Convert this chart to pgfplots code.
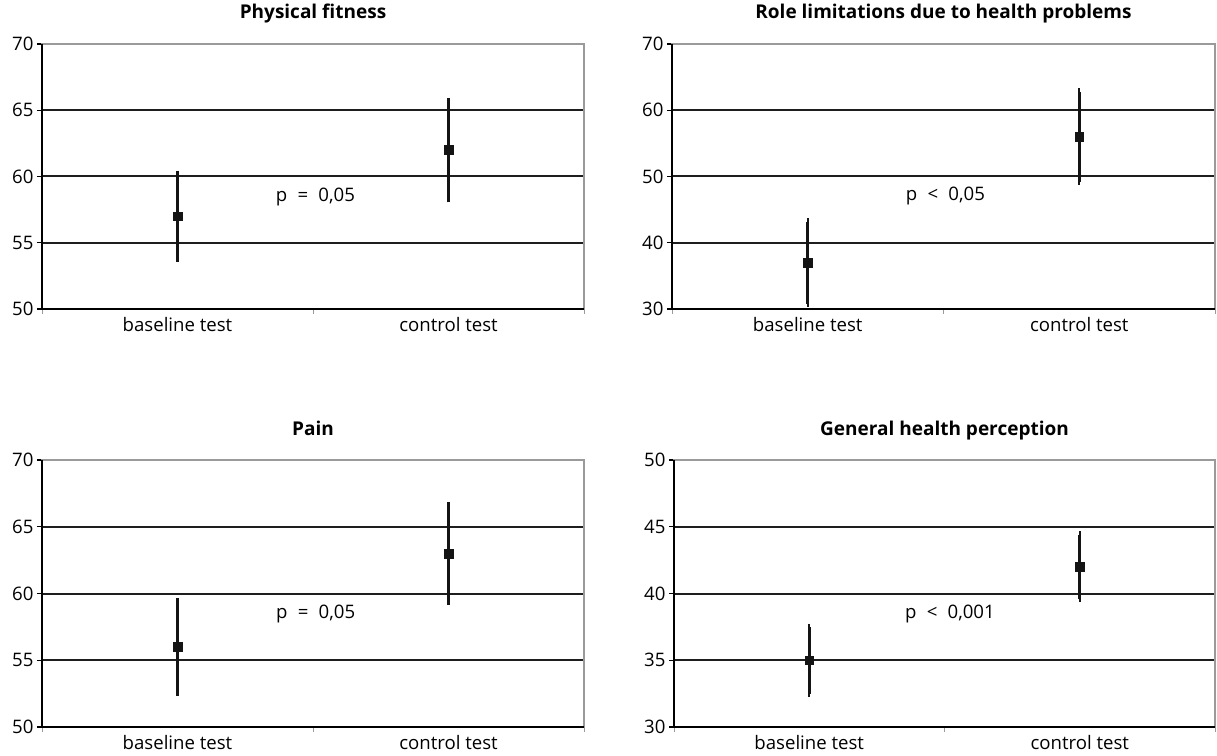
\documentclass[border=0pt]{standalone}
\usepackage{fontspec}
\setmainfont{Open Sans}
\usepackage{pgfplots}
\pgfplotsset{compat=1.18}
\definecolor{gridc}{HTML}{1E1E1E}
\definecolor{framec}{HTML}{9A9A9A}
\newcommand{\tickfont}{\fontsize{18.6}{21}\selectfont}
\newcommand{\titlefont}{\fontsize{19}{21}\selectfont\bfseries}
\newcommand{\gap}{\hspace{0.55em}}
\pgfplotsset{
  panel/.style={
    scale only axis,
    /pgf/number format/assume math mode=true,
    xmin=-0.5, xmax=1.5,
    xtick={-0.5,0.5,1.5}, xticklabels={},
    extra x ticks={0,1},
    extra x tick labels={baseline test,control test},
    extra x tick style={major tick length=0pt, grid=none,
      xticklabel style={anchor=base, yshift=-22.7pt}},
    xtick pos=bottom, ytick pos=left,
    tick align=outside,
    major tick length=5pt,
    x tick style={draw=framec, line width=0.8pt},
    y tick style={draw=black, line width=1.2pt},
    ymajorgrids,
    grid style={draw=gridc, line width=2pt},
    axis line style={draw=framec, line width=1.8pt},
    tick label style={font=\tickfont},
    yticklabel style={anchor=east},
    title style={font=\titlefont, at={(0.5,1)}, anchor=base, yshift=19pt},
    clip=false,
    error bars/y dir=both,
    error bars/y explicit,
    error bars/error bar style={line width=3.2pt, draw=black!92},
    error bars/error mark options={line width=2.2pt, mark size=3.3pt, draw=black!92},
  },
  pts/.style={only marks, mark=square*, mark size=4.4pt, mark options={fill=black!92, draw=black!92}},
}
\newcommand{\leftbottom}{\draw[black, line width=1.8pt] (rel axis cs:0,1) -- (rel axis cs:0,0) -- (rel axis cs:1,0);}
\begin{document}
\begin{tikzpicture}
\useasboundingbox (0,0) rectangle (1217pt,755pt);
% Panel 1
\begin{axis}[panel, at={(42pt,446pt)}, anchor=south west, width=542pt, height=265pt,
  ymin=50, ymax=70, ytick={50,55,60,65,70}, title={Physical fitness}]
\addplot+[pts] coordinates {(0,57) +- (0,3.2) (1,62) +- (0,3.7)};
\leftbottom
\node[font=\tickfont] at (axis cs:0.509,58.45) {p\gap=\gap0,05};
\end{axis}
% Panel 2
\begin{axis}[panel, at={(672pt,446pt)}, anchor=south west, width=543pt, height=265pt,
  ymin=30, ymax=70, ytick={30,40,50,60,70}, title={Role limitations due to health problems}]
\addplot+[pts] coordinates {(0,37) +- (0,6.2) (1,56) +- (0,6.8)};
\leftbottom
\node[font=\tickfont] at (axis cs:0.507,47.1) {p\gap<\gap0,05};
\end{axis}
% Panel 3
\begin{axis}[panel, at={(42pt,28pt)}, anchor=south west, width=542pt, height=267pt,
  ymin=50, ymax=70, ytick={50,55,60,65,70}, title={Pain}]
\addplot+[pts] coordinates {(0,56) +- (0,3.4) (1,63) +- (0,3.6)};
\leftbottom
\node[font=\tickfont] at (axis cs:0.51,58.5) {p\gap=\gap0,05};
\end{axis}
% Panel 4
\begin{axis}[panel, at={(674pt,28pt)}, anchor=south west, width=541pt, height=267pt,
  ymin=30, ymax=50, ytick={30,35,40,45,50}, title={General health perception}]
\addplot+[pts] coordinates {(0,35) +- (0,2.5) (1,42) +- (0,2.4)};
\leftbottom
\node[font=\tickfont] at (axis cs:0.52,38.45) {p\gap<\gap0,001};
\end{axis}
\end{tikzpicture}
\end{document}
